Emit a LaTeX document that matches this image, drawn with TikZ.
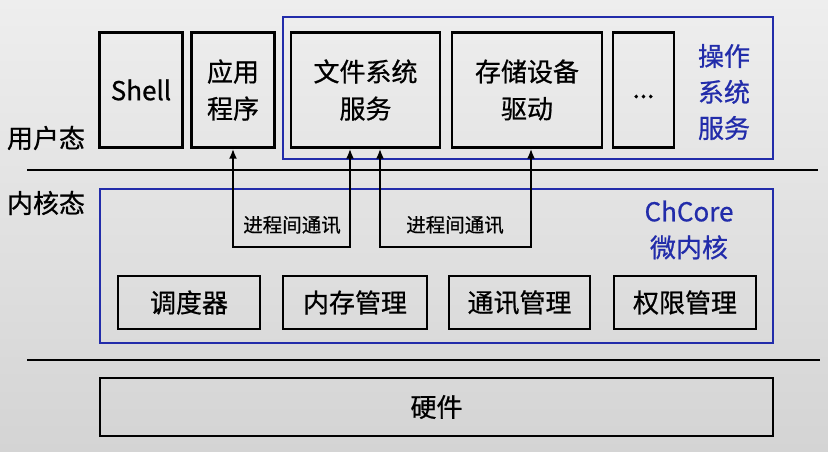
\documentclass[tikz,border=0pt]{standalone}
\usepackage{fontspec}
\setmainfont{Noto Sans CJK SC}[FakeBold=0.7]
\usetikzlibrary{arrows.meta}
\definecolor{bgtop}{RGB}{238,238,238}
\definecolor{bgbot}{RGB}{212,212,212}
\definecolor{osblue}{RGB}{34,44,170}

\begin{document}
\begin{tikzpicture}[x=1pt,y=-1pt,
  box/.style={draw=black,line width=2.4pt,inner sep=0pt,align=center,font=\fontsize{26}{37}\selectfont},
  group/.style={draw=osblue,line width=2pt,inner sep=0pt},
  tag/.style={text=osblue,align=center,font=\fontsize{26}{36}\selectfont},
  mode/.style={font=\fontsize{26}{30}\selectfont},
  ipctext/.style={font=\fontsize{19.5}{22}\selectfont},
  ipc/.style={line width=2pt,{Latex[length=10pt,width=8pt]}-{Latex[length=10pt,width=8pt]}},
  sep/.style={line width=2.6pt}]
  \shade[top color=bgtop,bottom color=bgbot] (0,0) rectangle (828,452);
  \useasboundingbox (0,0) rectangle (828,452);
  % user space
  \node[group,minimum width=490pt,minimum height=142pt] (os) at (528,88) {};
  \node[box,minimum width=83pt,minimum height=115pt] (shell) at (141,90) {Shell};
  \node[box,minimum width=83pt,minimum height=115pt] (app) at (233,90) {应用\\程序};
  \node[box,minimum width=149pt,minimum height=115pt] (fs) at (365.5,90) {文件系统\\服务};
  \node[box,minimum width=150pt,minimum height=115pt] (store) at (527,90) {存储设备\\驱动};
  \node[box,minimum width=61pt,minimum height=115pt] (more) at (643.5,90) {\smash{\raisebox{-8pt}{...}}};
  \node[tag] (ostag) at (724,92) {操作\\系统\\服务};
  \node[mode] (umode) at (46,138) {用户态};
  \draw[sep] (27,170) -- (818,170);
  % kernel space
  \node[mode] (kmode) at (46,203) {内核态};
  \node[group,minimum width=673pt,minimum height=154pt] (kernel) at (436.5,266) {};
  \node[tag] (chcore) at (689,230) {ChCore\\微内核};
  \foreach \name/\x/\w/\txt in {sched/189/142/调度器,mem/355/144/内存管理,ipcm/519.5/141/通讯管理,cap/685/142/权限管理}{
    \node[box,minimum width=\w pt,minimum height=53pt] (\name) at (\x,302.5) {\txt};}
  \node[ipctext] (ipcl) at (292,225) {进程间通讯};
  \node[ipctext] (ipcr) at (455,225) {进程间通讯};
  \draw[ipc] (app.south) -- ++(0,98) -| ([xshift=-15.5pt]fs.south);
  \draw[ipc] ([xshift=14.5pt]fs.south) -- ++(0,98) -| ([xshift=4pt]store.south);
  \draw[sep] (27,360) -- (820,360);
  % hardware
  \node[box,minimum width=673pt,minimum height=58pt] (hw) at (436.5,407) {硬件};
\end{tikzpicture}
\end{document}
